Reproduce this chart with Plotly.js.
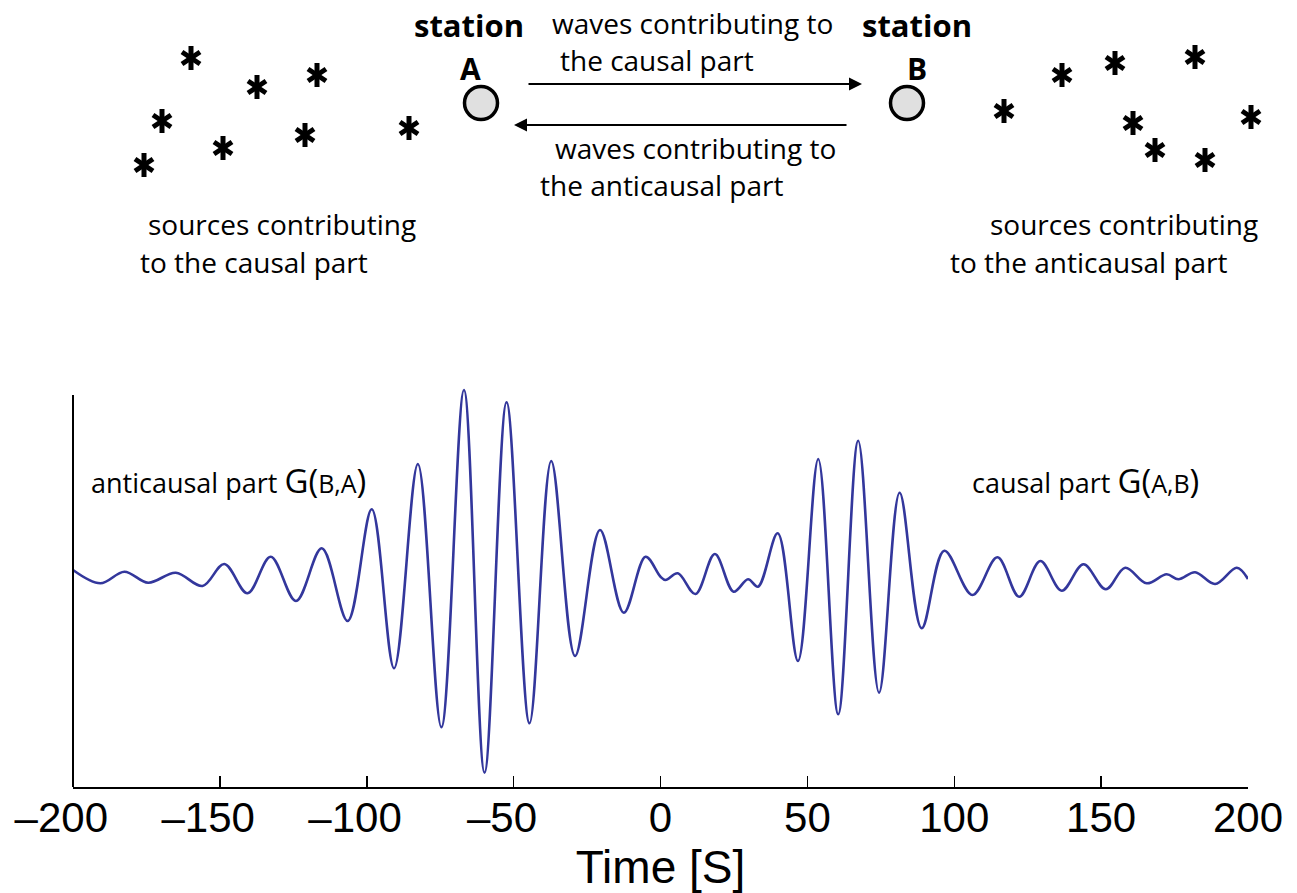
<!DOCTYPE html>
<html>
<head>
<meta charset="utf-8">
<script src="https://cdn.plot.ly/plotly-3.0.1.min.js"></script>
<style>html,body{margin:0;padding:0;background:#fff;}#chart{width:1297px;height:893px;}</style>
</head>
<body>
<div id="chart"></div>
<script>
// ---- waveform (cross-correlation): extrema of the trace ----
const timeSec = [-200, -190.7, -182.5, -174.4, -165.0, -155.9, -148.5, -140.6, -132.7, -124.1,
  -115.3, -106.5, -98.3, -90.7, -82.6, -74.6, -66.9, -59.9, -52.4, -44.6,
  -37.2, -29.1, -20.6, -12.5, -5.1, 0, 1.7, 5.9, 11.9, 18.5,
  24.9, 29.8, 33.2, 39.9, 46.8, 53.7, 60.5, 67.3, 74.4, 81.4,
  88.9, 96.6, 106.2, 114.7, 122.1, 129.3, 136.6, 144.0, 151.6, 158.2,
  165.5, 172.3, 176.3, 182.0, 188.8, 196.2, 200];
const amplitude = [1.0, -0.33, 0.83, -0.27, 0.73, -0.6, 1.6, -1.33, 2.33, -2.1,
  3.17, -4.1, 7.07, -8.83, 11.6, -14.73, 19.0, -19.27, 17.77, -14.33,
  11.9, -7.6, 5.0, -3.27, 2.33, 0.33, 0, 0.67, -1.4, 2.6,
  -1.17, 0.07, -0.67, 4.67, -8.1, 12.1, -13.43, 13.93, -11.27, 8.73,
  -4.83, 2.93, -1.5, 2.27, -1.67, 1.9, -1.07, 1.57, -0.93, 1.23,
  -0.33, 0.57, 0.07, 0.77, -0.4, 1.23, 0.1];

// x tick labels
const tickValues = [-200, -150, -100, -50, 0, 50, 100, 150, 200];
const tickLabels = ['\u2013200\u2007', '\u2013150\u2007', '\u2013100\u2007', '\u201350\u2007', '0', '50', '100', '150', '200'];

// ---- schematic (top) : positions in a pixel-like sketch space ----
const sourcesCausalX = [191, 162, 144, 257, 223, 317, 305, 409];
const sourcesCausalY = [58, 121, 165, 87, 148, 75, 135, 128];
const sourcesAntiX = [1004, 1062, 1115, 1195, 1133, 1155, 1205, 1251];
const sourcesAntiY = [111, 75, 63, 57, 123, 150, 160, 117];
const stationNames = ['A', 'B'];
const stationX = [481, 907];
const stationY = [103, 103];

const dark = '#33379c';
const diagFont = 'Open Sans, Liberation Sans, sans-serif';

const traces = [
  {x: timeSec, y: amplitude, type: 'scatter', mode: 'lines',
   line: {color: dark, width: 2.6, shape: 'spline', smoothing: 1.0},
   xaxis: 'x', yaxis: 'y', hoverinfo: 'skip'},
  {x: sourcesCausalX.concat(sourcesAntiX), y: sourcesCausalY.concat(sourcesAntiY),
   type: 'scatter', mode: 'markers', xaxis: 'x2', yaxis: 'y2', cliponaxis: false,
   marker: {symbol: 'y-up-open', size: 15, line: {color: '#000', width: 5}, color: '#000'}},
  {x: sourcesCausalX.concat(sourcesAntiX), y: sourcesCausalY.concat(sourcesAntiY),
   type: 'scatter', mode: 'markers', xaxis: 'x2', yaxis: 'y2', cliponaxis: false,
   marker: {symbol: 'y-down-open', size: 15, line: {color: '#000', width: 5}, color: '#000'}},
  {x: stationX, y: stationY, type: 'scatter', mode: 'markers', xaxis: 'x2', yaxis: 'y2',
   cliponaxis: false, text: stationNames,
   marker: {symbol: 'circle', size: 33, color: '#e0e0e0', line: {color: '#000', width: 3.5}}}
];

function txt(text, x, y, size, opts) {
  return Object.assign({text: text, x: x, y: y, xref: 'x2', yref: 'y2', showarrow: false,
    xanchor: 'left', yanchor: 'middle', font: {family: diagFont, size: size, color: '#000'}}, opts || {});
}

const gPart = (inner) => '<span style="font-size:33px">G(</span><span style="font-size:25px">' + inner +
  '</span><span style="font-size:33px">)</span>';

const annotations = [
  txt('<b>station</b>', 469, 25, 31, {xanchor: 'center'}),
  txt('<b>A</b>', 470, 68, 30, {xanchor: 'center'}),
  txt('<b>station</b>', 917, 25, 31, {xanchor: 'center'}),
  txt('<b>B</b>', 917, 68, 30, {xanchor: 'center'}),
  txt('waves contributing to', 550, 23, 28),
  txt('the causal part', 558, 60, 28),
  txt('waves contributing to', 553, 148, 28),
  txt('the anticausal part', 538, 185, 28),
  txt('sources contributing', 146, 224, 28),
  txt('to the causal part', 138, 262, 28),
  txt('sources contributing', 988, 224, 28),
  txt('to the anticausal part', 948, 262, 28),
  txt('anticausal part ' + gPart('B,A'), 89, 480, 27),
  txt('causal part ' + gPart('A,B'), 970, 480, 27),
  // arrows
  {x: 862, y: 84, ax: 527, ay: 84, xref: 'x2', yref: 'y2', axref: 'x2', ayref: 'y2', text: '',
   showarrow: true, arrowhead: 2, arrowsize: 1.3, arrowwidth: 2, arrowcolor: '#000'},
  {x: 514, y: 125, ax: 848, ay: 125, xref: 'x2', yref: 'y2', axref: 'x2', ayref: 'y2', text: '',
   showarrow: true, arrowhead: 2, arrowsize: 1.3, arrowwidth: 2, arrowcolor: '#000'}
];

const layout = {
  width: 1297, height: 893,
  margin: {l: 73, r: 0, t: 0, b: 106},
  paper_bgcolor: '#fff', plot_bgcolor: 'rgba(0,0,0,0)',
  showlegend: false,
  xaxis: {domain: [0, 1175 / 1224], anchor: 'y', range: [-200, 200], tickmode: 'array',
    tickvals: tickValues, ticktext: tickLabels, ticks: 'inside', ticklen: 11, tickwidth: 1.5,
    tickcolor: '#000', showline: true, linewidth: 2, linecolor: '#000', showgrid: false,
    zeroline: false, tickfont: {family: 'Liberation Sans, Arial, sans-serif', size: 42, color: '#000'},
    ticklabelstandoff: -7,
    title: {text: 'Time [S]', standoff: 0, font: {family: 'Liberation Sans, Arial, sans-serif', size: 46, color: '#000'}}},
  yaxis: {domain: [0, 0.5108], anchor: 'x', range: [-20.7, 19.5], showline: false,
    showticklabels: false, ticks: '', showgrid: false, zeroline: false},
  xaxis2: {domain: [0, 1], anchor: 'y2', range: [73, 1297], visible: false, fixedrange: true},
  yaxis2: {domain: [0, 1], anchor: 'x2', range: [787, 0], visible: false, fixedrange: true},
  shapes: [
    {type: 'line', xref: 'paper', yref: 'y', x0: 0, x1: 0, y0: -20.7, y1: 18.5,
     line: {color: '#000', width: 2}}
  ],
  annotations: annotations
};

Plotly.newPlot('chart', traces, layout, {staticPlot: true, displayModeBar: false});
</script>
</body>
</html>
